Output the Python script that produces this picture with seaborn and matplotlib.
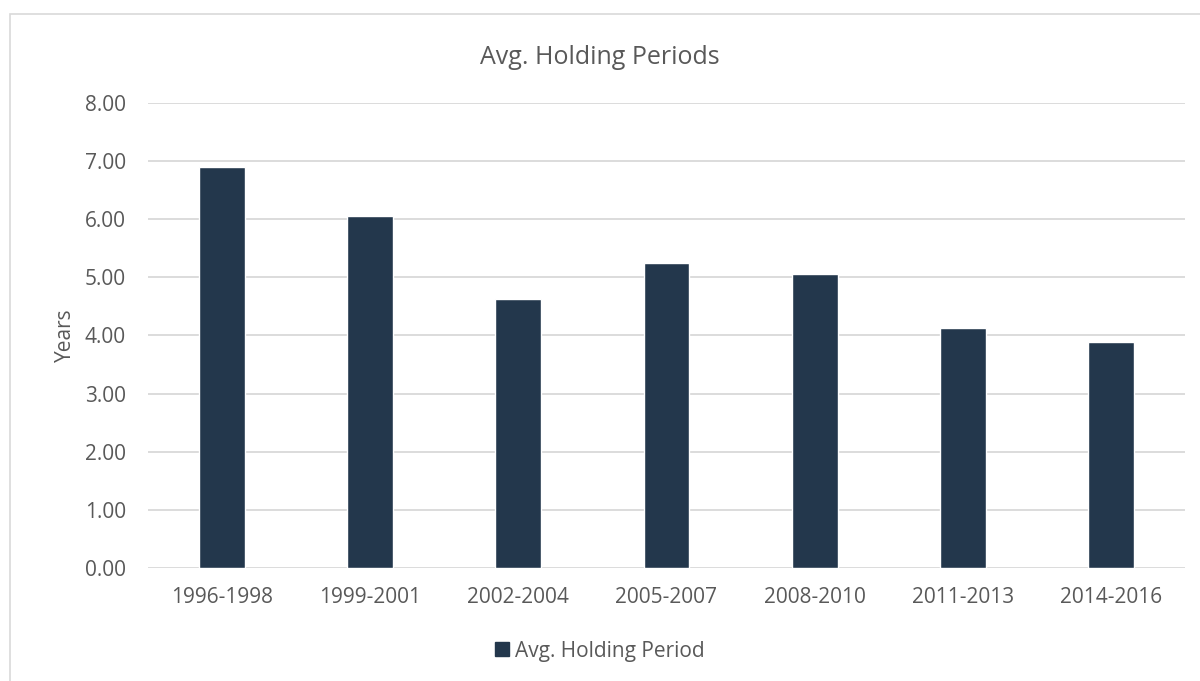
import matplotlib
matplotlib.use("Agg")
import matplotlib.pyplot as plt
import seaborn as sns
import pandas as pd
from matplotlib.patches import Rectangle, Patch

categories = ["1996-1998", "1999-2001", "2002-2004", "2005-2007",
              "2008-2010", "2011-2013", "2014-2016"]
values = [6.89, 6.06, 4.62, 5.24, 5.06, 4.13, 3.89]
y_ticks = [0, 1, 2, 3, 4, 5, 6, 7, 8]
series_name = "Avg. Holding Period"

sns.set_theme(style="white")
plt.rcParams['font.family'] = ['Open Sans', 'DejaVu Sans']

df = pd.DataFrame({"Period": categories, "Years": values})

fig = plt.figure(figsize=(12, 6.81), dpi=100)
ax = fig.add_axes([0.1233, 0.166, 0.8642, 0.683])

bar_color = "#23374C"
text_color = "#595959"
grid_color = "#D9D9D9"

sns.barplot(data=df, x="Period", y="Years", color=bar_color, width=0.31,
            ax=ax, saturation=1, zorder=3)

ax.set_ylim(0, 8)
ax.set_yticks(y_ticks)
ax.set_yticklabels([f"{t:.2f}" for t in y_ticks])
ax.yaxis.grid(True, color=grid_color, linewidth=1.3, zorder=0)
ax.set_axisbelow(True)
for s in ax.spines.values():
    s.set_visible(False)
ax.tick_params(axis="both", length=0, labelsize=15, labelcolor=text_color)
ax.tick_params(axis="x", pad=14)
ax.tick_params(axis="y", pad=16)
ax.set_xlabel("")
ax.set_ylabel("Years", fontsize=15, color=text_color, labelpad=6)
ax.set_xlim(-0.5, len(categories) - 0.5)

fig.text(0.5, 0.915, "Avg. Holding Periods", ha="center", va="center",
         fontsize=18, color=text_color)

handle = Patch(facecolor=bar_color, edgecolor=bar_color)
fig.legend([handle], [series_name], loc="center", bbox_to_anchor=(0.5, 0.044),
           frameon=False, fontsize=15, labelcolor=text_color,
           handlelength=0.65, handleheight=0.65, handletextpad=0.3)

border = Rectangle((0.008, -0.02), 1.0, 0.999, transform=fig.transFigure,
                   fill=False, edgecolor="#D9D9D9", linewidth=1.2)
fig.patches.append(border)

fig.savefig("out.png", dpi=100, facecolor="white")
